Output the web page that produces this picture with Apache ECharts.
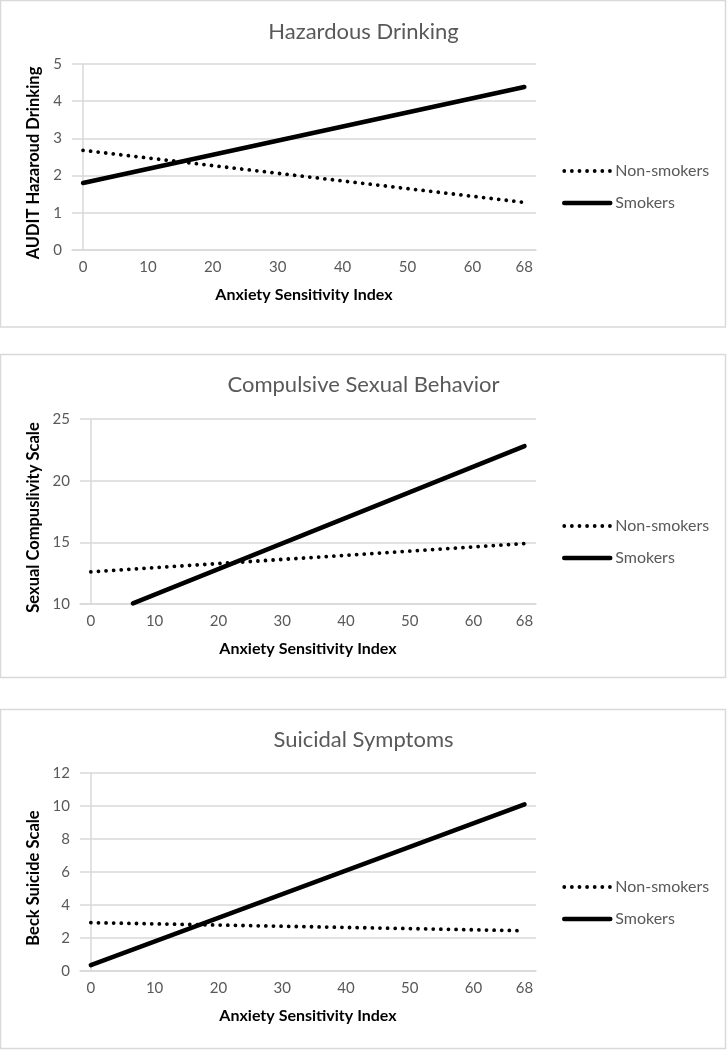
<!DOCTYPE html>
<html><head><meta charset="utf-8">
<script src="https://cdn.jsdelivr.net/npm/echarts@6/dist/echarts.min.js"></script>
<style>html,body{margin:0;padding:0;background:#fff}#c{width:727px;height:1050px}</style>
</head><body><div id="c"></div>
<script>
// ---- data ----
const xEnds = [0, 68];
const smokersX2 = [6.6, 68];
const xTickLabels = [0, 10, 20, 30, 40, 50, 60, 68];
const titles = ['Hazardous Drinking', 'Compulsive Sexual Behavior', 'Suicidal Symptoms'];
const yNames = ['AUDIT Hazaroud Drinking', 'Sexual Compuslivity Scale', 'Beck Suicide Scale'];
const xName = 'Anxiety Sensitivity Index';
const seriesNames = ['Non-smokers', 'Smokers'];
const nonSmokers1 = [2.68, 1.28];
const smokers1 = [1.8, 4.38];
const nonSmokers2 = [12.6, 14.9];
const smokers2 = [10.05, 22.8];
const nonSmokers3 = [2.93, 2.44];
const smokers3 = [0.36, 10.1];
const yMin = [0, 10, 0];
const yMax = [5, 25, 12];
const yStep = [1, 5, 2];

// ---- layout ----
const FONT = 'Lato, "Open Sans", sans-serif';
const grids = [
  {left: 72, top: 64, width: 464, height: 186},
  {left: 80, top: 419, width: 456, height: 185},
  {left: 80, top: 773, width: 456, height: 198}
];
const titleTops = [16, 369, 724];
const legendTops = [158, 513, 874];
const yNameGaps = [28, 38, 38];
const panels = [[0.5, 0.5, 725, 326.5], [0.5, 354.5, 725, 323], [0.5, 709.5, 725, 339]];
const nonX = [xEnds, xEnds, xEnds];
const smkX = [xEnds, smokersX2, xEnds];
const nonData = [nonSmokers1, nonSmokers2, nonSmokers3];
const smkData = [smokers1, smokers2, smokers3];

const gridColor = '#d9d9d9';
const textColor = '#595959';
const dotStyle = {color: '#000', width: 3.8, type: [0.01, 7.6], cap: 'round'};
const solidStyle = {color: '#000', width: 4.5, type: 'solid', cap: 'round'};
const hidden = {opacity: 0, color: '#000', borderWidth: 0};

const option = {
  animation: false,
  textStyle: {fontFamily: FONT},
  title: titles.map((t, i) => ({
    text: t, left: 'center', top: titleTops[i],
    textStyle: {color: textColor, fontWeight: 'normal', fontSize: 22, fontFamily: FONT}
  })),
  legend: titleTops.map((_, i) => ({
    orient: 'vertical', left: 557, top: legendTops[i],
    itemWidth: 46, itemHeight: 14, itemGap: 16,
    itemStyle: hidden,
    textStyle: {color: textColor, fontSize: 16, fontFamily: FONT},
    data: [
      {name: seriesNames[0], lineStyle: dotStyle, itemStyle: hidden},
      {name: seriesNames[1], lineStyle: solidStyle, itemStyle: hidden}
    ]
  })),
  grid: grids,
  xAxis: grids.map((g, i) => ({
    type: 'value', gridIndex: i, min: -1.7, max: 69.8,
    axisLine: {show: true, lineStyle: {color: gridColor, width: 1.5}},
    axisTick: {show: false},
    splitLine: {show: false},
    axisLabel: {customValues: xTickLabels, color: textColor, fontSize: 15, margin: 10, fontFamily: FONT},
    name: xName, nameLocation: 'middle', nameGap: 37,
    nameTextStyle: {color: '#000', fontWeight: 'bold', fontSize: 16, fontFamily: FONT}
  })),
  yAxis: grids.map((g, i) => ({
    type: 'value', gridIndex: i, min: yMin[i], max: yMax[i], interval: yStep[i],
    axisLine: {show: true, lineStyle: {color: gridColor, width: 1.5}},
    axisTick: {show: false},
    splitLine: {show: true, lineStyle: {color: gridColor, width: 1.5}},
    axisLabel: {color: textColor, fontSize: 15, margin: 10, fontFamily: FONT},
    name: yNames[i], nameLocation: 'middle', nameGap: yNameGaps[i],
    nameTextStyle: {color: '#000', fontWeight: 'bold', fontSize: 16.5, fontFamily: FONT, padding: [0, 12, 0, 0]}
  })),
  series: [].concat(...grids.map((g, i) => [
    {
      name: seriesNames[0], type: 'line', xAxisIndex: i, yAxisIndex: i,
      data: nonX[i].map((x, j) => [x, nonData[i][j]]),
      symbol: 'none', itemStyle: {color: '#000'}, lineStyle: dotStyle, clip: true
    },
    {
      name: seriesNames[1], type: 'line', xAxisIndex: i, yAxisIndex: i,
      data: smkX[i].map((x, j) => [x, smkData[i][j]]),
      symbol: 'none', itemStyle: {color: '#000'}, lineStyle: solidStyle, clip: true
    }
  ])),
  graphic: panels.map(p => ({
    type: 'rect', shape: {x: p[0], y: p[1], width: p[2], height: p[3]},
    style: {fill: 'none', stroke: gridColor, lineWidth: 1.5}, silent: true, z: -1
  }))
};
const chart = echarts.init(document.getElementById('c'), null, {renderer: 'canvas'});
chart.setOption(option);
</script>
</body></html>
